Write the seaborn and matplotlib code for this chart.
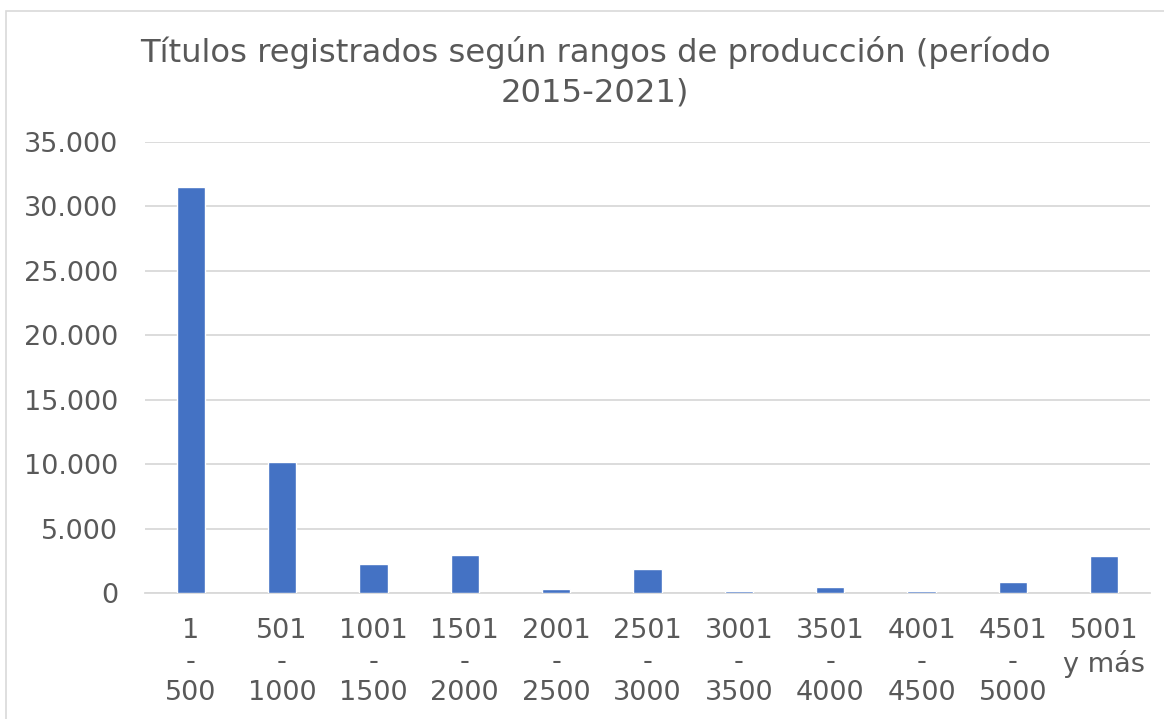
import matplotlib
matplotlib.use("Agg")
import matplotlib.pyplot as plt
from matplotlib.ticker import FuncFormatter
from matplotlib.patches import Rectangle
import pandas as pd
import seaborn as sns

# Data
rangos = ["1\n-\n500", "501\n-\n1000", "1001\n-\n1500", "1501\n-\n2000",
          "2001\n-\n2500", "2501\n-\n3000", "3001\n-\n3500", "3501\n-\n4000",
          "4001\n-\n4500", "4501\n-\n5000", "5001\ny más"]
titulos = [31500, 10200, 2250, 2970, 340, 1860, 180, 490, 150, 880, 2870]

df = pd.DataFrame({"Rango": rangos, "Titulos": titulos})

sns.set_style("white")
plt.rcParams["font.family"] = ["DejaVu Sans"]
gris = "#595959"

fig = plt.figure(figsize=(11.64, 7.19), dpi=100)
ax = fig.add_axes([145 / 1164, 1 - 593 / 719, (1150 - 145) / 1164, (593 - 142) / 719])

sns.barplot(data=df, x="Rango", y="Titulos", color="#4472C4", width=0.31,
            saturation=1, ax=ax, zorder=3)

ax.set_ylim(0, 35000)
ax.set_yticks(range(0, 35001, 5000))
ax.yaxis.set_major_formatter(FuncFormatter(lambda v, p: f"{int(v):,}".replace(",", ".")))
ax.grid(axis="y", color="#D9D9D9", linewidth=1.3, zorder=0)
ax.set_xlabel("")
ax.set_ylabel("")
for s in ["top", "right", "left"]:
    ax.spines[s].set_visible(False)
ax.spines["bottom"].set_color("#D9D9D9")
ax.spines["bottom"].set_linewidth(1.3)
ax.tick_params(axis="both", length=0, labelsize=19.5, labelcolor=gris)
ax.tick_params(axis="x", pad=18)
ax.tick_params(axis="y", pad=19.5)
for lbl in ax.get_xticklabels():
    lbl.set_linespacing(1.25)
    lbl.set_verticalalignment("top")

fig.text(595 / 1164, 1 - 72 / 719,
         "Títulos registrados según rangos de producción (período\n2015-2021)",
         ha="center", va="center", fontsize=23.2, color=gris, linespacing=1.35)

fig.patches.append(Rectangle((6 / 1164, -0.1), 1.2, 1 - 11 / 719 + 0.1,
                             transform=fig.transFigure, fill=False,
                             edgecolor="#D9D9D9", linewidth=1.2))

fig.savefig("out.png", dpi=100)
